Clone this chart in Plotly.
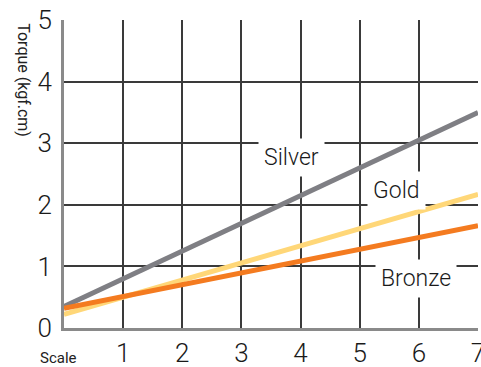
import plotly.graph_objects as go

scale = [0, 1, 2, 3, 4, 5, 6, 7]
silver = [0.35, 0.80, 1.25, 1.70, 2.15, 2.60, 3.05, 3.50]
gold = [0.22, 0.50, 0.78, 1.06, 1.34, 1.62, 1.90, 2.17]
bronze = [0.32, 0.51, 0.70, 0.89, 1.08, 1.27, 1.46, 1.66]
y_ticks = [0, 1, 2, 3, 4, 5]
x_ticks = [1, 2, 3, 4, 5, 6, 7]

FONT = "Roboto, sans-serif"

fig = go.Figure()
fig.add_trace(go.Scatter(x=scale, y=silver, mode="lines", line=dict(color="#7f7f84", width=5), name="Silver"))
fig.add_trace(go.Scatter(x=scale, y=gold, mode="lines", line=dict(color="#FFD778", width=5), name="Gold"))
fig.add_trace(go.Scatter(x=scale, y=bronze, mode="lines", line=dict(color="#F47B20", width=5), name="Bronze"))

ann_font = dict(family=FONT, size=23, color="#1a1a1a", weight=300)
fig.add_annotation(x=3.84, y=2.76, text="Silver", showarrow=False, font=ann_font, bgcolor="white", borderpad=5)
fig.add_annotation(x=5.63, y=2.24, text="Gold", showarrow=False, font=ann_font, bgcolor="white", borderpad=5)
fig.add_annotation(x=5.96, y=0.81, text="Bronze", showarrow=False, font=ann_font, bgcolor="white", borderpad=5)

fig.add_annotation(xref="paper", yref="paper", x=-0.014, y=-0.097, text="Scale", showarrow=False,
                   font=dict(family=FONT, size=15, color="#222"), xanchor="center", yanchor="middle")
fig.add_annotation(xref="paper", yref="paper", x=-0.097, y=0.805, text="Torque (kgf.cm)", showarrow=False,
                   textangle=90, font=dict(family=FONT, size=16, color="#222"),
                   xanchor="center", yanchor="middle")

tick_font = dict(family=FONT, size=26, color="#1a1a1a", weight=300)
fig.update_xaxes(range=[0, 7], tickvals=x_ticks, showgrid=True, gridcolor="#3a3a3a", gridwidth=1.5,
                 showline=True, linecolor="#8a8a8a", linewidth=3, zeroline=False, automargin=False,
                 tickfont=tick_font, ticks="", ticklabelstandoff=0, ticklabeloverflow="allow")
fig.update_yaxes(range=[0, 5], tickvals=y_ticks, showgrid=True, gridcolor="#3a3a3a", gridwidth=1.5,
                 showline=True, linecolor="#8a8a8a", linewidth=3, zeroline=False, automargin=False,
                 tickfont=tick_font, ticks="", ticklabelstandoff=4, ticklabeloverflow="allow")

fig.update_layout(width=481, height=367, margin=dict(l=64, r=3, t=20, b=39),
                  plot_bgcolor="white", paper_bgcolor="white", showlegend=False)

fig.write_html("out.html", config={"displayModeBar": False},
               post_script="document.body.style.margin='0';document.body.style.overflow='hidden';")
